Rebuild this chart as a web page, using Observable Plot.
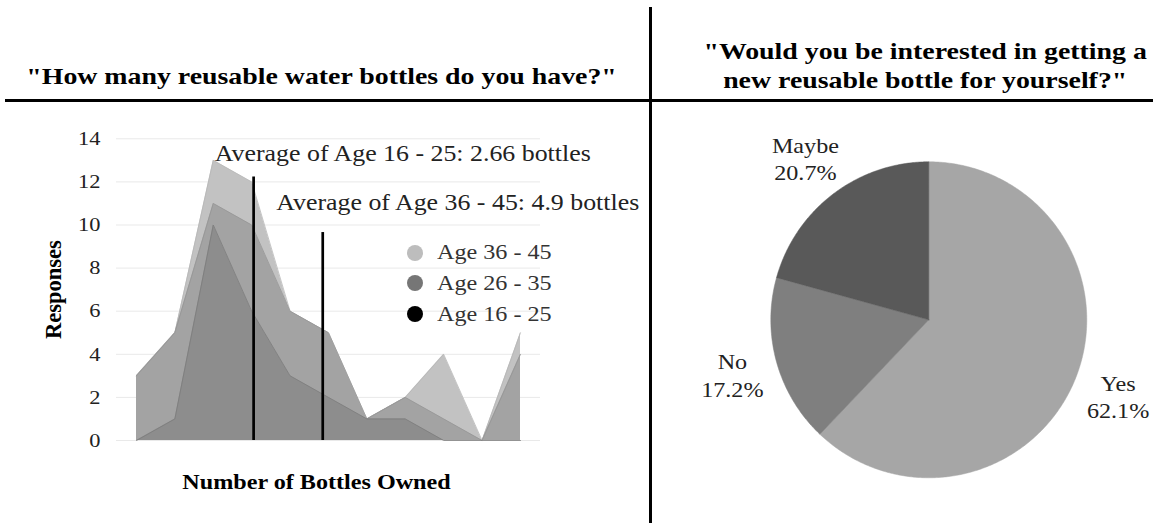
<!DOCTYPE html>
<html><head><meta charset="utf-8">
<script src="https://cdn.jsdelivr.net/npm/d3@7"></script>
<script src="https://cdn.jsdelivr.net/npm/@observablehq/plot@0.6"></script>
<style>
html,body{margin:0;padding:0;background:#fff;}
body{width:1153px;height:523px;position:relative;overflow:hidden;font-family:'Liberation Serif';color:#000;}
.title{position:absolute;font-family:'Liberation Serif';font-weight:bold;font-size:24px;text-align:center;white-space:nowrap;line-height:29px;width:600px;}
.title span{display:inline-block;transform:scaleX(1.16);transform-origin:50% 50%;}
#tl{left:22px;top:62px;}
#tr{left:625px;top:37px;}
.hl{position:absolute;left:5px;right:0;top:99px;height:3px;background:#000;}
.vl{position:absolute;left:649px;top:7px;bottom:0;width:3px;background:#000;}
#left{position:absolute;left:0;top:110px;}
#right{position:absolute;left:651px;top:110px;}
#legend{position:absolute;left:407px;top:237.3px;font-family:'Liberation Serif';font-size:21px;color:#333;}
.lrow{display:flex;align-items:center;height:30.8px;}
.lsw{width:16px;height:16px;border-radius:50%;margin-right:13.7px;flex:none;}
.ltx{display:inline-block;transform:scaleX(1.15);transform-origin:0 50%;white-space:nowrap;}
</style>
</head><body>
<div class="title" id="tl"></div>
<div class="title" id="tr"></div>
<div class="hl"></div>
<div class="vl"></div>
<div id="left"></div>
<div id="legend"></div>
<div id="right"></div>
<script>
// ---- data ----
const leftTitle = ["\"How many reusable water bottles do you have?\""];
const rightTitle = ["\"Would you be interested in getting a", "new reusable bottle for yourself?\""];
const bottles = [0, 1, 2, 3, 4, 5, 6, 7, 8, 9, 10];
const age36_45 = [3, 5, 13, 12, 6, 5, 1, 2, 4, 0, 5];
const age26_35 = [3, 5, 11, 10, 6, 5, 1, 2, 1, 0, 4];
const age16_25 = [0, 1, 10, 6, 3, 2, 1, 1, 0, 0, 0];
const seriesNames = ["Age 36 - 45", "Age 26 - 35", "Age 16 - 25"];
const areaColors = ["#c2c2c2", "#a3a3a3", "#8d8d8d"];
const edgeColors = ["#b8b8b8", "#959595", "#7c7c7c"];
const legendColors = ["#bdbdbd", "#767676", "#000000"];
const yTicks = [0, 2, 4, 6, 8, 10, 12, 14];
const avgLabels = ["Average of Age 16 - 25: 2.66 bottles", "Average of Age 36 - 45: 4.9 bottles"];
const avgLineX = [3.05, 4.85];
const avgLineTop = [12.23, 9.65];
const avgLabelX = [2.04, 3.64];
const avgLabelY = [12.95, 10.7];
const yLabel = "Responses";
const xLabel = "Number of Bottles Owned";
const pieLabels = ["Yes", "No", "Maybe"];
const piePercents = [62.1, 17.2, 20.7];
const pieColors = ["#a6a6a6", "#7f7f7f", "#595959"];

const STRETCH = 1.15;

// ---- titles ----
function fillTitle(id, lines) {
  const el = document.getElementById(id);
  lines.forEach((s, i) => {
    if (i) el.appendChild(document.createElement("br"));
    const sp = document.createElement("span"); sp.textContent = s; el.appendChild(sp);
  });
}
fillTitle("tl", leftTitle);
fillTitle("tr", rightTitle);

// horizontally widen svg texts about their anchor (reference type is wide)
function widenTexts(svg, s) {
  svg.querySelectorAll("text").forEach(t => {
    const tr = t.getAttribute("transform") || "";
    if (tr.includes("rotate")) return;
    const bb = t.getBBox();
    const anchor = getComputedStyle(t).textAnchor;
    const cx = anchor === "middle" ? bb.x + bb.width / 2 : anchor === "end" ? bb.x + bb.width : bb.x;
    t.setAttribute("transform", `${tr} translate(${cx},0) scale(${s},1) translate(${-cx},0)`);
  });
}

// ---- left chart ----
const seriesVals = [age36_45, age26_35, age16_25];
const rows = seriesVals.map((vals, s) => bottles.map((b, i) => ({series: seriesNames[s], x: b, y: vals[i]})));
const avgRules = avgLineX.map((x, i) => ({x, top: avgLineTop[i]}));
const avgText = avgLabels.map((t, i) => ({text: t, x: avgLabelX[i], y: avgLabelY[i]}));

const leftMarks = [Plot.gridY(yTicks, {stroke: "#e9e9e9", strokeOpacity: 1})];
rows.forEach((r, s) => {
  leftMarks.push(Plot.areaY(r, {x: "x", y1: 0, y2: "y", fill: areaColors[s], curve: "linear"}));
  leftMarks.push(Plot.line(r, {x: "x", y: "y", stroke: edgeColors[s], strokeWidth: 0.8}));
});
leftMarks.push(
  Plot.ruleX(avgRules, {x: "x", y1: 0, y2: "top", stroke: "#000", strokeWidth: 2.7}),
  Plot.text(avgText, {x: "x", y: "y", text: "text", textAnchor: "start", lineAnchor: "bottom", fontSize: 22.5, fill: "#222"}),
  Plot.axisY({ticks: yTicks, tickSize: 0, tickPadding: 16, label: null, fontSize: 19.5, fill: "#222"}),
  Plot.text([yLabel], {frameAnchor: "left", rotate: -90, dx: -63, textAnchor: "middle", fontSize: 22.5, fontWeight: "bold", fill: "#000"}),
  Plot.text([xLabel], {frameAnchor: "bottom", dx: -12, dy: 48, lineAnchor: "bottom", textAnchor: "middle", fontSize: 21, fontWeight: "bold", fill: "#000"})
);

const left = Plot.plot({
  width: 560, height: 400,
  marginLeft: 116, marginRight: 20, marginTop: 28.3, marginBottom: 70,
  insetLeft: 20, insetRight: 20,
  x: {type: "linear", domain: [0, 10], axis: null},
  y: {domain: [0, 14], axis: null},
  style: "font-family:'Liberation Serif';font-size:20px;background:transparent;overflow:visible;color:#222;",
  marks: leftMarks
});
document.getElementById("left").appendChild(left);
widenTexts(left, STRETCH);

// legend
const lg = document.getElementById("legend");
seriesNames.forEach((n, i) => {
  const row = document.createElement("div"); row.className = "lrow";
  const sw = document.createElement("span"); sw.className = "lsw"; sw.style.background = legendColors[i];
  const tx = document.createElement("span"); tx.className = "ltx"; tx.textContent = n;
  row.appendChild(sw); row.appendChild(tx); lg.appendChild(row);
});

// ---- pie ----
const arcs = d3.pie().sort(null).value(d => d)(piePercents);
const pieMarks = [];
arcs.forEach((a, k) => {
  const pts = [{x: 0, y: 0}];
  const n = Math.max(2, Math.ceil((a.endAngle - a.startAngle) / 0.01));
  for (let j = 0; j <= n; j++) {
    const t = a.startAngle + (a.endAngle - a.startAngle) * j / n;
    pts.push({x: Math.sin(t), y: Math.cos(t)});
  }
  pts.push({x: 0, y: 0});
  pieMarks.push(Plot.line(pts, {x: "x", y: "y", fill: pieColors[k], stroke: pieColors[k], strokeWidth: 0.5, curve: "linear"}));
});
const labelR = 1.29;
const pieText = arcs.map((a, k) => {
  const m = (a.startAngle + a.endAngle) / 2;
  return {x: labelR * Math.sin(m), y: labelR * Math.cos(m), text: pieLabels[k] + "\n" + piePercents[k].toFixed(1) + "%"};
});
pieMarks.push(Plot.text(pieText, {x: "x", y: "y", text: "text", textAnchor: "middle", lineAnchor: "middle", lineHeight: 1.3, fontSize: 21, fill: "#222"}));

const right = Plot.plot({
  width: 502, height: 413,
  marginLeft: 119.3, marginRight: 66.7, marginTop: 51.3, marginBottom: 45.7,
  x: {domain: [-1, 1], axis: null},
  y: {domain: [-1, 1], axis: null},
  style: "font-family:'Liberation Serif';font-size:20px;background:transparent;overflow:visible;",
  marks: pieMarks
});
document.getElementById("right").appendChild(right);
widenTexts(right, STRETCH);
</script>
</body></html>
